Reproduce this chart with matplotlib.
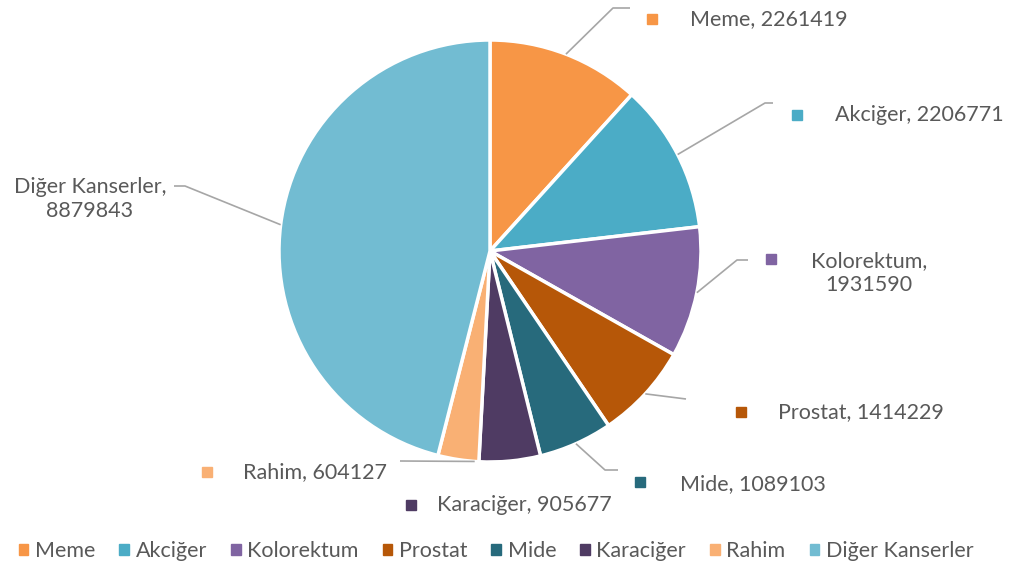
import matplotlib.pyplot as plt
from matplotlib.patches import Patch
import numpy as np

plt.rcParams['font.family'] = ['Lato', 'DejaVu Sans']

# data
categories = ['Meme', 'Akciğer', 'Kolorektum', 'Prostat', 'Mide', 'Karaciğer', 'Rahim', 'Diğer Kanserler']
values = [2261419, 2206771, 1931590, 1414229, 1089103, 905677, 604127, 8879843]
colors = ['#F79646', '#4BACC6', '#8064A2', '#B65708', '#276A7C', '#4F3B63', '#F9B074', '#72BCD2']

W, H = 1010, 567
fig = plt.figure(figsize=(W / 100, H / 100), dpi=100)
ax = fig.add_axes([0, 0, 1, 1])

cx, cy, R = 490, 567 - 251, 211
wedges, _ = ax.pie(values, colors=colors, startangle=90, counterclock=False,
                   center=(cx, cy), radius=R,
                   wedgeprops=dict(edgecolor='white', linewidth=2.5))
ax.set_xlim(0, W)
ax.set_ylim(0, H)
ax.set_aspect('equal')
ax.axis('off')

def P(x, y):
    return x, H - y

txt_color = '#595959'
line_color = '#A6A6A6'
fs = 15.5

# label layout: (marker pos, text pos, ha, leader points after anchor, anchor fraction in wedge)
layout = {
    'Meme': ((652, 19), (690, 19), 'left', [(613, 8), (630, 8)], 0.5),
    'Akciğer': ((797, 115), (835, 115), 'left', [(765, 103), (773, 103)], 0.5),
    'Kolorektum': ((771, 259), (869, 273), 'center', [(737, 260), (748, 260)], 0.5),
    'Prostat': ((741, 412), (778, 412), 'left', [(686, 399)], 0.5),
    'Mide': ((640, 482), (680, 484), 'left', [(605, 470), (618, 470)], 0.5),
    'Karaciğer': ((411, 505), (437, 505), 'left', [], 0.5),
    'Rahim': ((207, 472), (243, 472), 'left', [(400, 461)], 0.9),
    'Diğer Kanserler': (None, (90, 199), 'center', [(185, 186), (174, 186)], 0.5),
}

for w, name, val, col in zip(wedges, categories, values, colors):
    mpos, tpos, ha, pts, frac = layout[name]
    ang = np.deg2rad(w.theta1 + frac * (w.theta2 - w.theta1))
    ax_x, ax_y = cx + R * np.cos(ang), cy + R * np.sin(ang)
    if pts:
        xs = [ax_x] + [p[0] for p in pts]
        ys = [ax_y] + [H - p[1] for p in pts]
        ax.plot(xs, ys, color=line_color, lw=1.2, solid_capstyle='butt')
    if mpos is not None:
        ax.plot(*P(*mpos), marker='s', ms=6.5, color=col, mec=col)
    if name in ('Kolorektum', 'Diğer Kanserler'):
        label = f'{name},\n{val}'
    else:
        label = f'{name}, {val}'
    ax.text(*P(*tpos), label, ha=ha, va='center', fontsize=fs, color=txt_color,
            multialignment='center', linespacing=1.3)

handles = [Patch(facecolor=c, edgecolor=c) for c in colors]
leg = fig.legend(handles, categories, loc='center', bbox_to_anchor=(496 / W, 1 - 551 / H),
                 ncol=8, frameon=False, fontsize=fs, handlelength=0.45, handleheight=0.45,
                 handletextpad=0.3, columnspacing=1.12)
for t in leg.get_texts():
    t.set_color(txt_color)

fig.savefig('out.png', dpi=100)
